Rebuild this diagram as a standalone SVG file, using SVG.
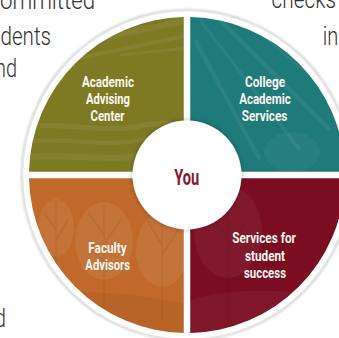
<svg xmlns="http://www.w3.org/2000/svg" width="339" height="338" viewBox="0 0 339 338">
  <style>
    .bg { font-family: Roboto, "Liberation Sans", sans-serif; font-weight: 300; font-size: 26px; fill: #333333; }
    .lbl { font-family: Roboto, "Liberation Sans", sans-serif; font-weight: 700; font-size: 15px; fill: #fbf8f0; text-anchor: middle; }
    .you { font-family: Roboto, "Liberation Sans", sans-serif; font-weight: 700; font-size: 22px; fill: #8a1530; text-anchor: middle; }
    .tex { fill: #ffffff; opacity: 0.07; }
    .streak { fill: none; stroke: #ffffff; opacity: 0.06; }
    .trunk { fill: none; stroke: #000000; opacity: 0.06; stroke-width: 1.5; }
  </style>
  <defs>
    <filter id="ringShadow" x="-10%" y="-10%" width="120%" height="120%">
      <feGaussianBlur stdDeviation="0.8"/>
    </filter>
    <filter id="centerShadow" x="-20%" y="-20%" width="140%" height="140%">
      <feDropShadow dx="0" dy="0" stdDeviation="2.5" flood-color="#000000" flood-opacity="0.3"/>
    </filter>
    <clipPath id="clipTL"><path d="M183.75,171.75 V17.03 A158,158 0 0 0 29.03,171.75 Z"/></clipPath>
    <clipPath id="clipTR"><path d="M190.25,171.75 H344.97 A158,158 0 0 0 190.25,17.03 Z"/></clipPath>
    <clipPath id="clipBR"><path d="M190.25,178.25 V332.97 A158,158 0 0 0 344.97,178.25 Z"/></clipPath>
    <clipPath id="clipBL"><path d="M183.75,178.25 H29.03 A158,158 0 0 0 183.75,332.97 Z"/></clipPath>
  </defs>

  <rect width="339" height="338" fill="#ffffff"/>

  <g id="background-text">
    <text class="bg" x="0" y="9" textLength="95" lengthAdjust="spacingAndGlyphs">ommitted</text>
    <text class="bg" x="0.5" y="45" textLength="50.5" lengthAdjust="spacingAndGlyphs">dents</text>
    <text class="bg" x="-5" y="77" textLength="22" lengthAdjust="spacingAndGlyphs">nd</text>
    <text class="bg" x="271.5" y="8" textLength="64.5" lengthAdjust="spacingAndGlyphs">checks</text>
    <text class="bg" x="322.7" y="45" textLength="15.5" lengthAdjust="spacingAndGlyphs">in</text>
    <text class="bg" x="-5.5" y="327" textLength="11.5" lengthAdjust="spacingAndGlyphs">d</text>
  </g>

  <g id="ring">
    <circle cx="187" cy="175" r="165" fill="#ffffff" stroke="#cdcdcd" stroke-width="2" filter="url(#ringShadow)"/>
    <circle cx="187" cy="175" r="163.5" fill="#ffffff"/>
  </g>

  <g id="academic-advising-center">
    <path d="M183.75,171.75 V17.03 A158,158 0 0 0 29.03,171.75 Z" fill="#7e7a24"/>
    <g clip-path="url(#clipTL)">
      <path class="streak" stroke-width="5" d="M20,128 C60,120 100,134 140,126 S190,130 200,128"/>
      <path class="streak" stroke-width="4" d="M20,142 C60,136 100,148 140,140 S190,144 200,142"/>
      <path class="streak" stroke-width="6" d="M20,158 C60,152 100,162 140,156 S190,160 200,158"/>
      <path class="streak" stroke-width="6" d="M90,40 L190,20"/>
      <path class="streak" stroke-width="4" d="M70,60 L190,35"/>
      <path class="streak" stroke-width="3" d="M120,55 L190,48"/>
    </g>
    <text class="lbl" x="108" y="86.5" textLength="52" lengthAdjust="spacingAndGlyphs">Academic</text>
    <text class="lbl" x="108" y="104" textLength="44" lengthAdjust="spacingAndGlyphs">Advising</text>
    <text class="lbl" x="107.5" y="121" textLength="34" lengthAdjust="spacingAndGlyphs">Center</text>
  </g>

  <g id="college-academic-services">
    <path d="M190.25,171.75 H344.97 A158,158 0 0 0 190.25,17.03 Z" fill="#1f7a7a"/>
    <g clip-path="url(#clipTR)">
      <path class="streak" stroke-width="3" d="M200,20 L300,150"/>
      <path class="streak" stroke-width="5" d="M220,20 L330,130"/>
      <path class="streak" stroke-width="2" d="M250,25 L339,100"/>
      <path class="streak" stroke-width="4" d="M195,40 L260,160"/>
      <ellipse cx="292" cy="152" rx="28" ry="20" fill="#ffffff" opacity="0.04"/>
    </g>
    <text class="lbl" x="265" y="86.5" textLength="40" lengthAdjust="spacingAndGlyphs">College</text>
    <text class="lbl" x="265" y="104" textLength="51.5" lengthAdjust="spacingAndGlyphs">Academic</text>
    <text class="lbl" x="264.5" y="121" textLength="45.5" lengthAdjust="spacingAndGlyphs">Services</text>
  </g>

  <g id="faculty-advisors">
    <path d="M183.75,178.25 H29.03 A158,158 0 0 0 183.75,332.97 Z" fill="#c0692a"/>
    <g clip-path="url(#clipBL)">
      <ellipse class="tex" cx="56" cy="228" rx="18" ry="29"/>
      <ellipse class="tex" cx="104" cy="241" rx="29" ry="39"/>
      <ellipse class="tex" cx="162" cy="250" rx="26" ry="37"/>
      <path class="trunk" d="M56,200 V300 M56,230 L44,212 M56,240 L68,220"/>
      <path class="trunk" d="M104,205 V310 M104,235 L88,212 M104,245 L122,218 M104,260 L90,250"/>
      <path class="trunk" d="M162,215 V320 M162,245 L148,222 M162,255 L178,230"/>
      <path d="M20,300 C80,285 140,295 190,305 V340 H20 Z" fill="#000000" opacity="0.04"/>
    </g>
    <text class="lbl" x="107.5" y="252.7" textLength="38.3" lengthAdjust="spacingAndGlyphs">Faculty</text>
    <text class="lbl" x="107.7" y="269.5" textLength="44.7" lengthAdjust="spacingAndGlyphs">Advisors</text>
  </g>

  <g id="services-for-student-success">
    <path d="M190.25,178.25 V332.97 A158,158 0 0 0 344.97,178.25 Z" fill="#7b0d22"/>
    <g clip-path="url(#clipBR)">
      <ellipse cx="228" cy="232" rx="34" ry="46" fill="#ffffff" opacity="0.05"/>
      <path class="trunk" d="M228,200 V320 M228,240 L210,215 M228,250 L246,222"/>
      <path d="M190,300 C240,285 300,290 339,300 V340 H190 Z" fill="#ffffff" opacity="0.04"/>
    </g>
    <text class="lbl" x="264" y="242.7" textLength="63.7" lengthAdjust="spacingAndGlyphs">Services for</text>
    <text class="lbl" x="265" y="261" textLength="40" lengthAdjust="spacingAndGlyphs">student</text>
    <text class="lbl" x="265" y="278.3" textLength="42" lengthAdjust="spacingAndGlyphs">success</text>
  </g>

  <g id="connectors"/>

  <g id="you">
    <circle cx="187" cy="175" r="54.5" fill="#ffffff" filter="url(#centerShadow)"/>
    <text class="you" x="186.8" y="185" textLength="25" lengthAdjust="spacingAndGlyphs">You</text>
  </g>
</svg>
